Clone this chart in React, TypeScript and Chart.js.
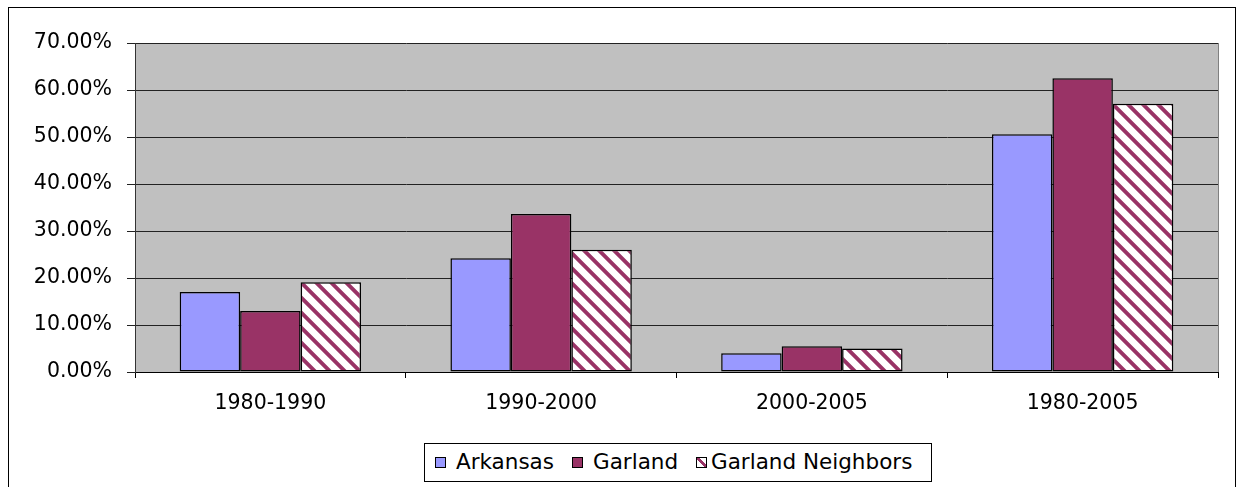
import React, { useEffect, useRef } from "react";
import { Chart, registerables } from "chart.js";

Chart.register(...registerables);

const categories = ["1980-1990", "1990-2000", "2000-2005", "1980-2005"];
const arkansas = [17.0, 24.2, 4.0, 50.6];
const garland = [13.0, 33.6, 5.5, 62.5];
const neighbors = [19.1, 26.0, 5.0, 57.1];
const seriesNames = ["Arkansas", "Garland", "Garland Neighbors"];
const yMin = 0;
const yMax = 70;
const yStep = 10;

const BLUE = "#9999FF";
const MAROON = "#993366";
const FONT = "'DejaVu Sans', sans-serif";

function makeHatch(ctx: CanvasRenderingContext2D): CanvasPattern | string {
  const tile = document.createElement("canvas");
  const p = 15;
  tile.width = p;
  tile.height = p;
  const t = tile.getContext("2d");
  if (!t) return MAROON;
  const ss = 4;
  for (let y = 0; y < p; y++) {
    for (let x = 0; x < p; x++) {
      let cov = 0;
      for (let sy = 0; sy < ss; sy++) {
        for (let sx = 0; sx < ss; sx++) {
          const px = x + (sx + 0.5) / ss;
          const py = y + (sy + 0.5) / ss;
          let v = (px - py) % p;
          if (v < 0) v += p;
          if (v < 5.5) cov++;
        }
      }
      const a = cov / (ss * ss);
      const r = Math.round(255 + (0x99 - 255) * a);
      const g = Math.round(255 + (0x33 - 255) * a);
      const b = Math.round(255 + (0x66 - 255) * a);
      t.fillStyle = `rgb(${r},${g},${b})`;
      t.fillRect(x, y, 1, 1);
    }
  }
  return ctx.createPattern(tile, "repeat") || MAROON;
}

const plotBg = {
  id: "plotBg",
  beforeDraw(chart: any) {
    const { ctx, chartArea } = chart;
    ctx.save();
    ctx.fillStyle = "#C0C0C0";
    ctx.fillRect(chartArea.left, chartArea.top, chartArea.right - chartArea.left, chartArea.bottom - chartArea.top);
    ctx.restore();
  },
  afterDraw(chart: any) {
    const { ctx, chartArea } = chart;
    ctx.save();
    ctx.strokeStyle = "#808080";
    ctx.lineWidth = 1;
    ctx.beginPath();
    ctx.moveTo(Math.round(chartArea.right) + 0.5, chartArea.top);
    ctx.lineTo(Math.round(chartArea.right) + 0.5, chartArea.bottom);
    ctx.stroke();
    ctx.restore();
  },
};

export default function App() {
  const ref = useRef<HTMLCanvasElement | null>(null);

  useEffect(() => {
    const canvas = ref.current;
    if (!canvas) return;
    const ctx = canvas.getContext("2d");
    if (!ctx) return;
    const hatch = makeHatch(ctx);
    const chart = new Chart(ctx, {
      type: "bar",
      data: {
        labels: categories,
        datasets: [
          { label: seriesNames[0], data: arkansas, backgroundColor: BLUE, borderColor: "#000", borderWidth: 1.5, borderSkipped: false },
          { label: seriesNames[1], data: garland, backgroundColor: MAROON, borderColor: "#000", borderWidth: 1.5, borderSkipped: false },
          { label: seriesNames[2], data: neighbors, backgroundColor: hatch as any, borderColor: "#000", borderWidth: 1.5, borderSkipped: false },
        ],
      },
      options: {
        responsive: false,
        animation: false,
        layout: { padding: { top: 35, right: 17, left: 0, bottom: 0 } },
        datasets: { bar: { categoryPercentage: 0.67, barPercentage: 1 } },
        plugins: { legend: { display: false }, tooltip: { enabled: false } },
        scales: {
          x: {
            grid: { drawOnChartArea: false, drawTicks: true, tickLength: 6, color: "#000", offset: true },
            border: { color: "#000", width: 1 },
            ticks: { color: "#000", font: { family: FONT, size: 20.5 }, padding: 13, maxRotation: 0 },
            afterFit(scale: any) {
              scale.height = 114;
            },
          },
          y: {
            min: yMin,
            max: yMax,
            grid: { color: "#222", lineWidth: 1, tickLength: 8 },
            border: { color: "#333", width: 1 },
            ticks: {
              stepSize: yStep,
              color: "#000",
              font: { family: FONT, size: 20.5 },
              padding: 15,
              callback: (v: any) => Number(v).toFixed(2) + "%",
            },
            afterFit(scale: any) {
              scale.width = 126;
            },
          },
        },
      },
      plugins: [plotBg],
    });
    return () => chart.destroy();
  }, []);

  const swatchBase: React.CSSProperties = {
    position: "absolute",
    top: 457,
    width: 11,
    height: 11,
    boxSizing: "border-box",
    border: "1px solid #000",
  };
  const textBase: React.CSSProperties = {
    position: "absolute",
    top: 449,
    fontFamily: FONT,
    fontSize: 21.5,
    lineHeight: "26px",
    color: "#000",
    whiteSpace: "nowrap",
  };

  return (
    <div>
      <div
        style={{
          position: "absolute",
          left: 8,
          top: 7,
          width: 1228,
          height: 490,
          boxSizing: "border-box",
          border: "1px solid #000",
          background: "#fff",
        }}
      >
        <canvas ref={ref} width={1226} height={478} style={{ display: "block" }} />
      </div>
      <div
        style={{
          position: "absolute",
          left: 424,
          top: 443,
          width: 508,
          height: 39,
          boxSizing: "border-box",
          border: "1px solid #000",
          background: "#fff",
        }}
      />
      <div style={{ ...swatchBase, left: 435, background: BLUE }} />
      <div style={{ ...textBase, left: 456 }}>{seriesNames[0]}</div>
      <div style={{ ...swatchBase, left: 572, background: MAROON }} />
      <div style={{ ...textBase, left: 593 }}>{seriesNames[1]}</div>
      <div
        style={{
          ...swatchBase,
          left: 696,
          background: `linear-gradient(45deg, #fff 0%, #fff 40%, ${MAROON} 40%, ${MAROON} 62%, #fff 62%, #fff 100%)`,
        }}
      />
      <div style={{ ...textBase, left: 711 }}>{seriesNames[2]}</div>
    </div>
  );
}
